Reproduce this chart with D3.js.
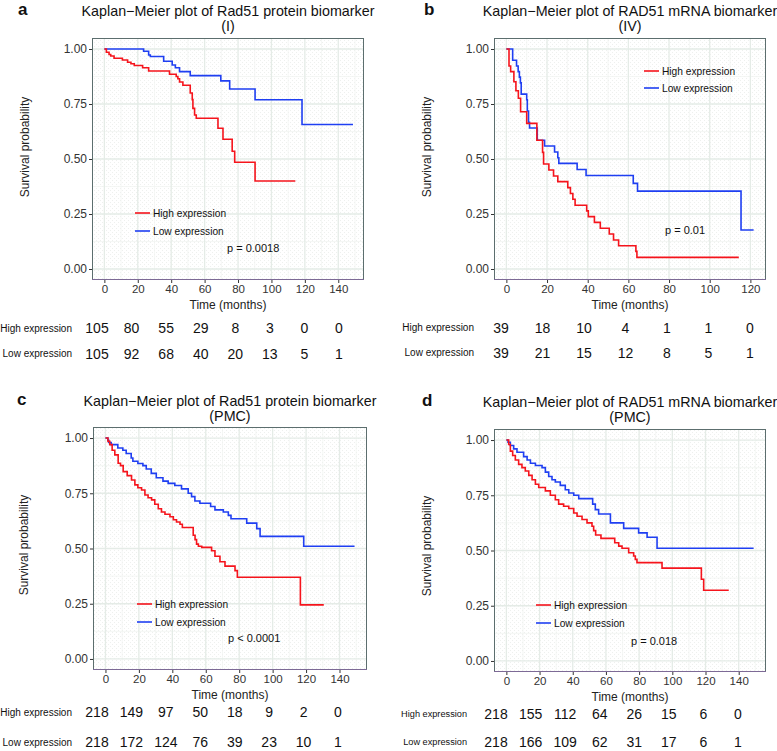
<!DOCTYPE html>
<html><head><meta charset="utf-8">
<script src="https://cdn.jsdelivr.net/npm/d3@7"></script>
<style>body{margin:0;background:#fff}svg{display:block}</style>
</head><body>
<svg id="c" width="777" height="751"></svg>
<script>
// ---------- DATA ----------
const xTicks140 = [0,20,40,60,80,100,120,140];
const xTicks120 = [0,20,40,60,80,100,120];
const yTicks = [0,0.25,0.5,0.75,1];
const yTickLabels = ["0.00","0.25","0.50","0.75","1.00"];
const seriesNames = ["High expression","Low expression"];

// Panel a: Rad51 protein (I)
const aHighTime = [0,1.2,2.8,3.8,5.8,10.8,13.9,15.9,17.9,22.9,26.5,39,43,44,45,47,51.4,52.6,53,54,55,68,71,76.5,78,90.2,114.3];
const aHighSurv = [1,0.985,0.975,0.968,0.958,0.95,0.94,0.933,0.925,0.915,0.9,0.885,0.875,0.865,0.85,0.835,0.8,0.77,0.73,0.7,0.685,0.64,0.59,0.535,0.485,0.4,0.4];
const aLowTime = [0,23.5,26.5,27.5,35.5,40.6,42.5,45,51.4,69.7,75,90.2,118.3,148.8];
const aLowSurv = [1,0.99,0.973,0.966,0.944,0.927,0.915,0.897,0.879,0.855,0.818,0.769,0.657,0.657];
const aHighRisk = [105,80,55,29,8,3,0,0];
const aLowRisk = [105,92,68,40,20,13,5,1];

// Panel b: RAD51 mRNA (IV)
const bHighTime = [0,1.3,2.1,3.7,4.7,5.9,7.0,10.0,15.0,17.8,18.3,20.9,23.2,25.3,30.2,31.5,32.7,33.8,39.5,40.3,43.3,46.2,50.6,52.7,55.2,63.7,64.2,114.3];
const bHighSurv = [1,0.923,0.897,0.851,0.81,0.776,0.715,0.662,0.585,0.53,0.477,0.45,0.423,0.397,0.37,0.343,0.317,0.29,0.264,0.238,0.212,0.185,0.159,0.132,0.106,0.08,0.053,0.053];
const bLowTime = [0,3.1,5.0,5.8,6.4,6.9,7.3,10.0,10.3,10.9,11.4,15.2,18.8,23.7,25.3,25.8,34.8,39.2,62.4,64.5,115.4,121.6];
const bLowSurv = [1,0.949,0.923,0.897,0.872,0.846,0.795,0.769,0.718,0.667,0.641,0.585,0.559,0.532,0.506,0.48,0.452,0.425,0.389,0.354,0.177,0.177];
const bHighRisk = [39,18,10,4,1,1,0];
const bLowRisk = [39,21,15,12,8,5,1];

// Panel c: Rad51 protein (PMC)
const cHighTime = [0,1.5,2.6,4,5.6,7.6,9,10.6,13,15.6,17.6,19.4,21.6,23.6,25.5,27.6,29.5,31.6,33.5,35.6,38.6,40.6,42.5,44.6,46,52.5,53.6,54.5,55.6,57.6,63.5,65.5,68.5,71.5,77.5,78.9,116.6,130.6];
const cHighSurv = [1,0.985,0.97,0.945,0.924,0.886,0.875,0.848,0.83,0.81,0.788,0.775,0.765,0.742,0.73,0.72,0.7,0.68,0.665,0.655,0.644,0.63,0.62,0.61,0.595,0.56,0.54,0.52,0.51,0.505,0.49,0.465,0.44,0.42,0.4,0.37,0.245,0.245];
const cLowTime = [0,1.4,2.0,3.4,7.4,10.4,12.4,15.4,16.4,19.4,22.4,24.4,27.4,30.4,34.4,37.5,41.5,45.5,49.5,51.5,53.5,56.5,62.9,65.5,70.5,73.5,75.1,84.5,90.5,92.5,118.6,149];
const cLowSurv = [1,0.99,0.98,0.97,0.955,0.945,0.93,0.91,0.895,0.885,0.875,0.86,0.84,0.82,0.805,0.795,0.785,0.77,0.75,0.735,0.715,0.705,0.69,0.675,0.665,0.65,0.635,0.615,0.59,0.555,0.51,0.51];
const cHighRisk = [218,149,97,50,18,9,2,0];
const cLowRisk = [218,172,124,76,39,23,10,1];

// Panel d: RAD51 mRNA (PMC)
const dHighTime = [0,1.4,2.4,3.8,5.4,7.4,9.4,11.4,13.5,15.5,17.5,19.5,23.5,26.5,29.5,31.5,34.5,37.6,40.6,42.6,45.6,48.6,51.6,52.6,53.8,57.0,65.3,67.7,69.7,73.7,76.7,77.7,78.7,93.8,117.5,118.9,134];
const dHighSurv = [1,0.98,0.95,0.93,0.91,0.89,0.875,0.86,0.84,0.82,0.8,0.785,0.77,0.75,0.73,0.71,0.7,0.69,0.67,0.655,0.64,0.625,0.61,0.59,0.57,0.555,0.535,0.52,0.51,0.49,0.475,0.46,0.445,0.42,0.37,0.32,0.32];
const dLowTime = [0,1.0,2.4,4.4,6.4,10.4,12.5,14.5,17.5,21.5,23.5,25.5,27.5,29.5,32.5,35.5,37.6,40.6,43.6,52.0,53.6,55.6,62.7,70.7,79.7,84.8,90.8,149];
const dLowSurv = [1,0.99,0.975,0.96,0.945,0.925,0.91,0.895,0.885,0.875,0.855,0.835,0.82,0.81,0.795,0.775,0.76,0.75,0.735,0.71,0.685,0.665,0.625,0.6,0.58,0.56,0.51,0.51];
const dHighRisk = [218,155,112,64,26,15,6,0];
const dLowRisk = [218,166,109,62,31,17,6,1];

// ---------- LAYOUT ----------
const FONT = "'Liberation Sans', Arial, Helvetica, sans-serif";
const RED = "#f5141c", BLUE = "#1f3ff2";

const panels = [
 {tag:"a", title:["Kaplan\u2212Meier plot of Rad51 protein biomarker","(I)"], tagX:18, tagY:15, titleY:16,
  L:92,R:364,T:38,B:280, xdom:[-7.4,155.4], ticks:xTicks140, riskRange:[97,339],
  hi:[aHighTime,aHighSurv], lo:[aLowTime,aLowSurv], risk:[aHighRisk,aLowRisk], riskY:[328,353.5], riskLabX:72, riskLabFS:10,
  ylabX:28.5, ylabY:147, legX:135, legY:[213,231], p:"p = 0.0018", pX:227, pY:248},
 {tag:"b", title:["Kaplan\u2212Meier plot of RAD51 mRNA biomarker","(IV)"], tagX:424, tagY:15, titleY:16,
  L:494,R:766,T:38,B:280, xdom:[-6.08,127.68], ticks:xTicks120, riskRange:[501,750],
  hi:[bHighTime,bHighSurv], lo:[bLowTime,bLowSurv], risk:[bHighRisk,bLowRisk], riskY:[327.5,352.5], riskLabX:474, riskLabFS:10,
  ylabX:431, ylabY:147, legX:644, legY:[71,88], p:"p = 0.01", pX:665, pY:230},
 {tag:"c", title:["Kaplan\u2212Meier plot of Rad51 protein biomarker","(PMC)"], tagX:17, tagY:405, titleY:406,
  L:93,R:367,T:427,B:670, xdom:[-7.45,156.45], ticks:xTicks140, riskRange:[97,338],
  hi:[cHighTime,cHighSurv], lo:[cLowTime,cLowSurv], risk:[cHighRisk,cLowRisk], riskY:[712,742], riskLabX:72, riskLabFS:10,
  ylabX:28, ylabY:545, legX:137, legY:[604,622], p:"p < 0.0001", pX:228, pY:638},
 {tag:"d", title:["Kaplan\u2212Meier plot of RAD51 mRNA biomarker","(PMC)"], tagX:422, tagY:406, titleY:407,
  L:494,R:766,T:429,B:672, xdom:[-7.45,156.45], ticks:xTicks140, riskRange:[496,738],
  hi:[dHighTime,dHighSurv], lo:[dLowTime,dLowSurv], risk:[dHighRisk,dLowRisk], riskY:[714,742], riskLabX:467, riskLabFS:9.2,
  ylabX:431, ylabY:546, legX:536, legY:[605,623], p:"p = 0.018", pX:631, pY:641}
];

const svg = d3.select("#c");
const defs = svg.append("defs");
const pat = defs.append("pattern").attr("id","dots").attr("width",4).attr("height",4).attr("patternUnits","userSpaceOnUse");
pat.append("rect").attr("width",4).attr("height",4).attr("fill","#fff");
pat.append("rect").attr("x",0).attr("y",0).attr("width",1).attr("height",1).attr("fill","#eef0ee");
pat.append("rect").attr("x",2).attr("y",2).attr("width",1).attr("height",1).attr("fill","#eef0ee");

panels.forEach(p => {
  const g = svg.append("g");
  const x = d3.scaleLinear().domain(p.xdom).range([p.L,p.R]);
  const y = d3.scaleLinear().domain([-0.05,1.05]).range([p.B,p.T]);
  const xr = d3.scaleLinear().domain([0,p.ticks[p.ticks.length-1]]).range(p.riskRange);
  const cx = (p.L+p.R)/2;

  // panel tag & title
  g.append("text").attr("x",p.tagX).attr("y",p.tagY).attr("font-family",FONT).attr("font-weight","bold")
    .attr("font-size",17).attr("fill","#111").text(p.tag);
  p.title.forEach((t,i) => g.append("text").attr("x",cx).attr("y",p.titleY+15*i).attr("text-anchor","middle")
    .attr("font-family",FONT).attr("font-size",14.3).attr("fill","#111").text(t));

  // background
  g.append("rect").attr("x",p.L).attr("y",p.T).attr("width",p.R-p.L).attr("height",p.B-p.T).attr("fill","url(#dots)");
  const clip = "clip"+p.tag;
  defs.append("clipPath").attr("id",clip).append("rect").attr("x",p.L).attr("y",p.T).attr("width",p.R-p.L).attr("height",p.B-p.T);
  const inner = g.append("g").attr("clip-path",`url(#${clip})`);
  // minor grid
  const step = p.ticks[1]-p.ticks[0];
  const xMinor = d3.range(p.ticks[0]-step/2, p.xdom[1], step);
  inner.selectAll(".xm").data(xMinor).join("line").attr("x1",d=>x(d)).attr("x2",d=>x(d)).attr("y1",p.T).attr("y2",p.B)
    .attr("stroke","#f1f4f1").attr("stroke-width",0.7);
  inner.selectAll(".ym").data([-0.125,0.125,0.375,0.625,0.875]).join("line").attr("y1",d=>y(d)).attr("y2",d=>y(d)).attr("x1",p.L).attr("x2",p.R)
    .attr("stroke","#f1f4f1").attr("stroke-width",0.7);
  // major grid
  inner.selectAll(".xg").data(p.ticks).join("line").attr("x1",d=>x(d)).attr("x2",d=>x(d)).attr("y1",p.T).attr("y2",p.B)
    .attr("stroke","#e5ece7").attr("stroke-width",1.3);
  inner.selectAll(".yg").data(yTicks).join("line").attr("y1",d=>y(d)).attr("y2",d=>y(d)).attr("x1",p.L).attr("x2",p.R)
    .attr("stroke","#e5ece7").attr("stroke-width",1.3);

  // curves
  const line = d3.line().x(d=>x(d[0])).y(d=>y(d[1])).curve(d3.curveStepAfter);
  [[p.lo,BLUE],[p.hi,RED]].forEach(([s,col]) => {
    const pts = s[0].map((t,i)=>[t,s[1][i]]);
    inner.append("path").attr("d",line(pts)).attr("fill","none").attr("stroke",col).attr("stroke-width",1.6);
  });

  // border
  g.append("rect").attr("x",p.L+0.5).attr("y",p.T+0.5).attr("width",p.R-p.L-1).attr("height",p.B-p.T-1)
    .attr("fill","none").attr("stroke","#5c6e6e").attr("stroke-width",1);
  g.append("line").attr("x1",p.L).attr("x2",p.R).attr("y1",p.B-0.5).attr("y2",p.B-0.5).attr("stroke","#7d6a96").attr("stroke-width",1);

  // axes
  const xAxis = d3.axisBottom(x).tickValues(p.ticks).tickSize(3).tickPadding(2);
  const xa = g.append("g").attr("transform",`translate(0,${p.B})`).call(xAxis);
  xa.select(".domain").remove();
  xa.selectAll("line").attr("stroke","#333");
  xa.selectAll("text").attr("font-family",FONT).attr("font-size",11.5).attr("fill","#333");
  const yAxis = d3.axisLeft(y).tickValues(yTicks).tickFormat((d,i)=>yTickLabels[i]).tickSize(3).tickPadding(2);
  const ya = g.append("g").attr("transform",`translate(${p.L},0)`).call(yAxis);
  ya.select(".domain").remove();
  ya.selectAll("line").attr("stroke","#333");
  ya.selectAll("text").attr("font-family",FONT).attr("font-size",12).attr("fill","#333");

  // axis titles
  g.append("text").attr("x",cx).attr("y",p.B+29).attr("text-anchor","middle").attr("font-family",FONT)
    .attr("font-size",12).attr("fill","#222").text("Time (months)");
  g.append("text").attr("transform",`translate(${p.ylabX},${p.ylabY}) rotate(-90)`).attr("text-anchor","middle")
    .attr("font-family",FONT).attr("font-size",12).attr("fill","#222").text("Survival probability");

  // legend
  [RED,BLUE].forEach((col,i) => {
    g.append("line").attr("x1",p.legX).attr("x2",p.legX+15).attr("y1",p.legY[i]).attr("y2",p.legY[i])
      .attr("stroke",col).attr("stroke-width",1.6);
    g.append("text").attr("x",p.legX+18).attr("y",p.legY[i]).attr("dominant-baseline","central")
      .attr("font-family",FONT).attr("font-size",10.2).attr("fill","#111").text(seriesNames[i]);
  });
  g.append("text").attr("x",p.pX).attr("y",p.pY).attr("dominant-baseline","central").attr("font-family",FONT)
    .attr("font-size",11).attr("fill","#111").text(p.p);

  // risk table
  p.risk.forEach((row,r) => {
    g.append("text").attr("x",p.riskLabX).attr("y",p.riskY[r]).attr("text-anchor","end").attr("dominant-baseline","central")
      .attr("font-family",FONT).attr("font-size",p.riskLabFS).attr("fill","#111").text(seriesNames[r]);
    g.selectAll(null).data(row).join("text").attr("x",(d,i)=>xr(p.ticks[i])).attr("y",p.riskY[r])
      .attr("text-anchor","middle").attr("dominant-baseline","central").attr("font-family",FONT)
      .attr("font-size",14).attr("fill","#111").text(d=>d);
  });
});
</script>
</body></html>
